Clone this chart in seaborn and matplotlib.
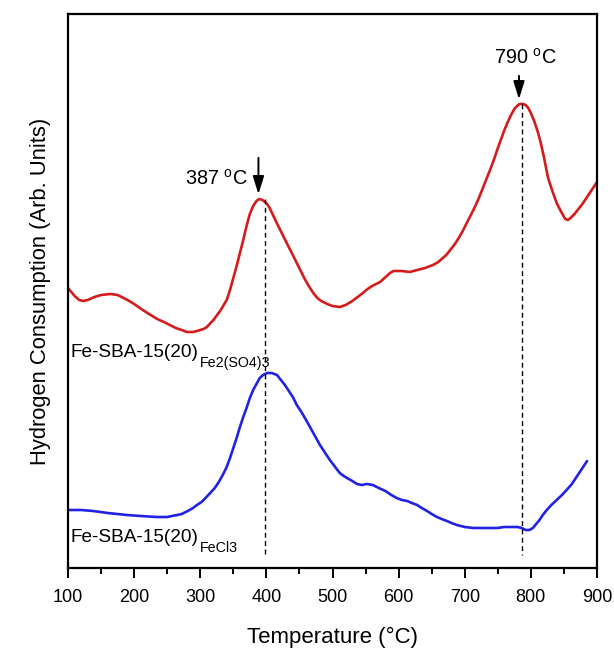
"""
TPR profiles of Fe-SBA-15(20) prepared from two iron precursors
"""

import numpy as np
import pandas as pd
import matplotlib
matplotlib.use("Agg")
import matplotlib.pyplot as plt
from matplotlib.ticker import MultipleLocator
import seaborn as sns

# Fe2(SO4)3 sample (upper trace)
temp_so4 = [100, 105, 110, 117, 123, 130, 140, 150, 164, 175, 190, 200, 213, 225, 235, 245,
            254, 263, 272, 280, 289, 295, 300, 305, 310, 320, 330, 340, 345, 350, 355, 360,
            365, 370, 375, 380, 385, 389, 394, 400, 405, 410, 415, 421, 427, 433, 440, 446,
            452, 458, 465, 471, 477, 483, 492, 500, 511, 520, 530, 538, 546, 553, 560, 566,
            572, 577, 582, 587, 592, 597, 605, 617, 628, 640, 652, 660, 665, 672, 678, 684,
            690, 697, 703, 710, 716, 722, 728, 734, 740, 745, 749, 755, 760, 765, 770, 775,
            779, 783, 788, 792, 796, 800, 805, 811, 815, 820, 826, 833, 839, 846, 852, 856,
            860, 866, 872, 879, 885, 891, 897, 900]
h_so4 = [280, 276, 272, 268, 267, 268, 271, 273, 274, 273, 268, 264, 258, 253, 249, 246,
         243, 240, 238, 236, 236, 237, 238, 239, 241, 248, 257, 268, 278, 290, 302, 315,
         328, 342, 354, 362, 367, 369, 368, 365, 360, 353, 346, 338, 330, 322, 313, 305,
         297, 289, 281, 275, 270, 267, 264, 262, 261, 263, 267, 271, 275, 279, 282, 284,
         286, 289, 292, 295, 297, 297, 297, 296, 298, 300, 303, 306, 309, 313, 318, 323,
         329, 337, 345, 354, 362, 371, 381, 391, 401, 410, 418, 429, 438, 446, 453, 459,
         462, 464, 464, 463, 460, 455, 447, 435, 425, 410, 390, 376, 365, 356, 349, 348,
         350, 354, 359, 365, 371, 377, 383, 386]

# FeCl3 sample (lower trace)
temp_cl = [100, 120, 138, 160, 189, 210, 234, 250, 265, 272, 278, 284, 289, 295, 302, 308,
           315, 322, 328, 334, 340, 345, 350, 355, 360, 365, 370, 375, 380, 385, 390, 395,
           401, 408, 416, 422, 428, 434, 440, 446, 453, 460, 466, 471, 476, 481, 486, 491,
           496, 504, 511, 517, 522, 530, 537, 544, 552, 561, 570, 580, 589, 597, 605, 613,
           620, 628, 635, 643, 650, 658, 665, 673, 680, 688, 700, 713, 722, 730, 740, 749,
           760, 773, 780, 786, 792, 798, 803, 808, 813, 818, 824, 831, 839, 847, 854, 862,
           869, 877, 885]
h_cl = [58, 58, 57, 55, 53, 52, 51, 51, 53, 54, 56, 58, 60, 63, 66, 70,
        75, 80, 86, 93, 101, 110, 120, 130, 141, 151, 160, 170, 178, 184, 190, 193,
        195, 195, 193, 188, 183, 177, 171, 163, 156, 148, 141, 135, 129, 123, 118, 113,
        108, 101, 95, 92, 90, 87, 84, 83, 84, 83, 80, 77, 73, 70, 68, 67,
        65, 63, 60, 57, 54, 51, 49, 47, 45, 43, 41, 40, 40, 40, 40, 40,
        41, 41, 41, 40, 38, 38, 40, 44, 48, 53, 58, 63, 68, 73, 78, 84,
        91, 99, 107]

# peak markers
peak_labels = ["387 $^\\mathrm{o}$C", "790 $^\\mathrm{o}$C"]
arrow_T = [388, 782]
dash_T = [398, 786]
dash_top = [369, 464]

xticks = [100, 200, 300, 400, 500, 600, 700, 800, 900]

sns.set_style("ticks")
plt.rcParams["font.family"] = ["Liberation Sans", "DejaVu Sans"]
plt.rcParams["mathtext.fontset"] = "custom"
plt.rcParams["mathtext.rm"] = "Liberation Sans"
plt.rcParams["mathtext.it"] = "Liberation Sans:italic"
for key in ["text.color", "axes.labelcolor", "xtick.color", "ytick.color", "axes.edgecolor"]:
    plt.rcParams[key] = "black"

fig = plt.figure(figsize=(6.14, 6.48), dpi=100)
ax = fig.add_axes([68 / 614, 1 - 568 / 648, 529 / 614, 554 / 648])

df_so4 = pd.DataFrame({"T": temp_so4, "h": h_so4})
df_cl = pd.DataFrame({"T": temp_cl, "h": h_cl})
sns.lineplot(data=df_so4, x="T", y="h", ax=ax, color="#d41c1c", lw=1.9, sort=False)
sns.lineplot(data=df_cl, x="T", y="h", ax=ax, color="#2222e6", lw=1.9, sort=False)

# dashed guides at the peak maxima
for t, top in zip(dash_T, dash_top):
    ax.plot([t, t], [top, 13], color="black", lw=1.0, dashes=(3.5, 2.5))

# arrows + labels
ax.annotate("", xy=(arrow_T[0], 371), xytext=(arrow_T[0], 413),
            arrowprops=dict(arrowstyle="-|>,head_width=0.28,head_length=0.9",
                            color="black", lw=1.4, mutation_scale=12))
ax.annotate("", xy=(arrow_T[1], 466), xytext=(arrow_T[1], 495),
            arrowprops=dict(arrowstyle="-|>,head_width=0.28,head_length=0.9",
                            color="black", lw=1.4, mutation_scale=12))
ax.text(372, 389, peak_labels[0], fontsize=14.3, ha="right", va="center")
ax.text(791, 510, peak_labels[1], fontsize=14.3, ha="center", va="center")

# sample labels with larger-than-default subscripts
for y0, sub in [(211, "Fe2(SO4)3"), (26, "FeCl3")]:
    t = ax.text(104, y0, "Fe-SBA-15(20)", fontsize=13.7, ha="left", va="baseline")
    ax.annotate(sub, xy=(1, 0), xycoords=t, xytext=(1, -4.3), textcoords="offset points",
                fontsize=10.3, ha="left", va="baseline")

ax.set_xlim(100, 900)
ax.set_ylim(0, 554)
ax.set_xticks(xticks)
ax.xaxis.set_minor_locator(MultipleLocator(50))
ax.set_yticks([])
ax.tick_params(axis="x", which="major", direction="out", length=7, width=1.4,
               labelsize=13, pad=8)
ax.tick_params(axis="x", which="minor", direction="out", length=4, width=1.4)
for s in ax.spines.values():
    s.set_linewidth(1.6)
    s.set_visible(True)

ax.set_xlabel("Temperature (°C)", fontsize=16, labelpad=15)
ax.set_ylabel("Hydrogen Consumption (Arb. Units)", fontsize=15.8, labelpad=12)

fig.savefig("out.png", dpi=100)
